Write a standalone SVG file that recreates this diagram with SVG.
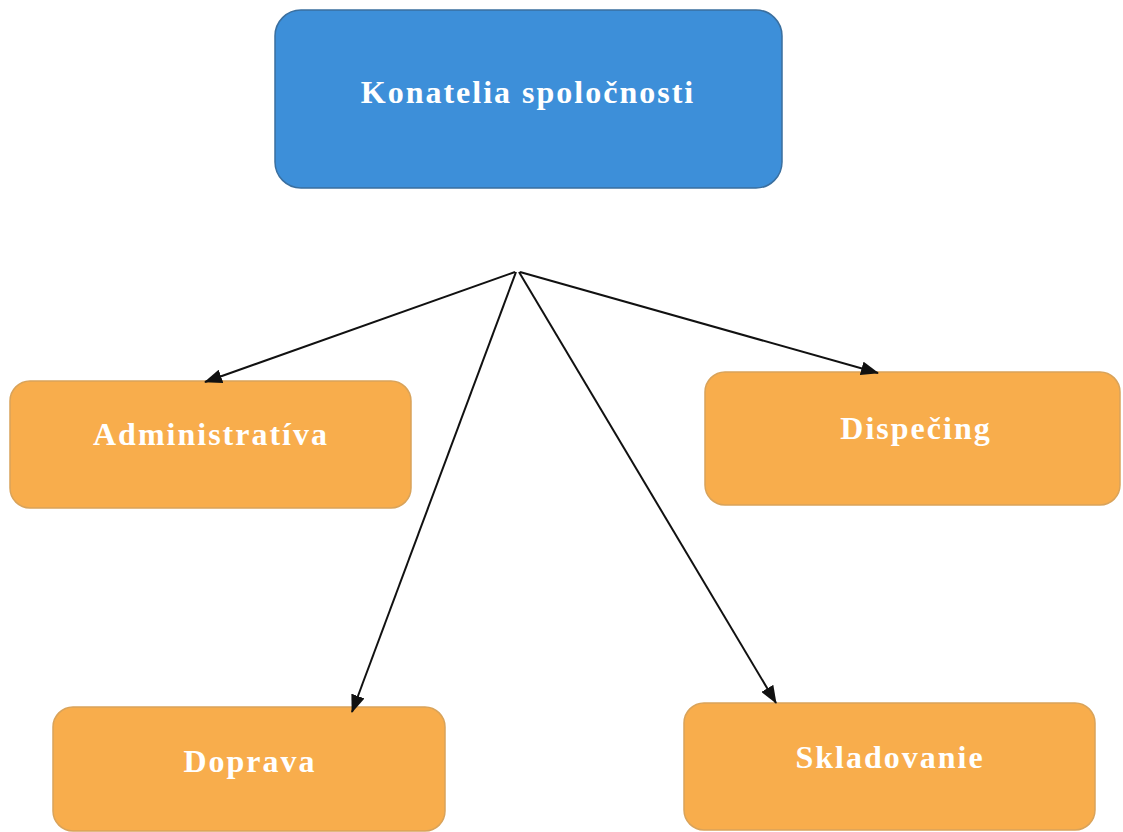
<svg xmlns="http://www.w3.org/2000/svg" width="1123" height="832" viewBox="0 0 1123 832">
<defs>
<style>
.top{fill:#3d8fd9;stroke:#3a6f9f;stroke-width:1.5}
.dep{fill:#f8ad4c;stroke:#d9a35a;stroke-width:1.5}
.lbl{font-family:"Liberation Serif","Times New Roman",serif;font-weight:bold;font-size:32px;fill:#ffffff;text-anchor:middle;letter-spacing:2px}
.con{stroke:#111;stroke-width:2;fill:none;marker-end:url(#ah)}
</style>
<marker id="ah" viewBox="0 0 18 14" refX="17" refY="7" markerWidth="18" markerHeight="14" markerUnits="userSpaceOnUse" orient="auto">
<path d="M0,0 L18,7 L0,14 z" fill="#111"/>
</marker>
</defs>
<rect width="1123" height="832" fill="#ffffff"/>
<g id="konatelia">
<rect class="top" x="275" y="10" width="507" height="178" rx="26"/>
<text class="lbl" x="528" y="103">Konatelia spoločnosti</text>
</g>
<g id="administrativa">
<rect class="dep" x="10" y="381" width="401" height="127" rx="20"/>
<text class="lbl" x="211" y="445">Administratíva</text>
</g>
<g id="dispecing">
<rect class="dep" x="705" y="372" width="415" height="133" rx="20"/>
<text class="lbl" x="916" y="439">Dispečing</text>
</g>
<g id="doprava">
<rect class="dep" x="53" y="707" width="392" height="124" rx="20"/>
<text class="lbl" x="250" y="772">Doprava</text>
</g>
<g id="skladovanie">
<rect class="dep" x="684" y="703" width="411" height="127" rx="20"/>
<text class="lbl" x="890" y="768">Skladovanie</text>
</g>
<g id="connectors">
<line class="con" x1="515" y1="272" x2="205" y2="382"/>
<line class="con" x1="520" y1="272" x2="878" y2="373"/>
<line class="con" x1="516" y1="272" x2="352" y2="712"/>
<line class="con" x1="519" y1="272" x2="776" y2="703"/>
</g>
</svg>
